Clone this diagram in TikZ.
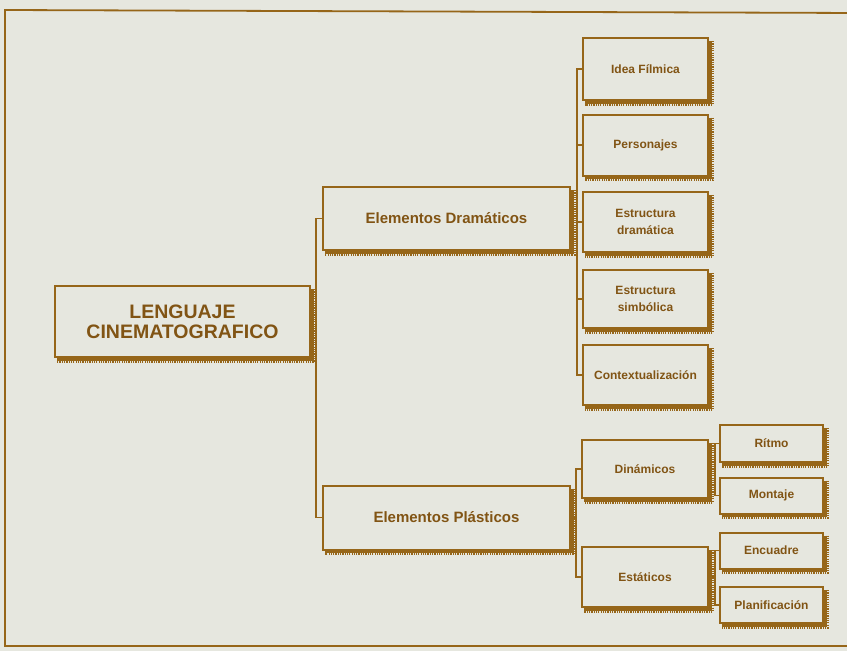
\documentclass[tikz,border=0pt]{standalone}
\usepackage{fontspec}
\setmainfont{Liberation Sans}
\definecolor{bg}{HTML}{E6E7DF}
\definecolor{brn}{HTML}{966619}
\definecolor{txt}{HTML}{815414}
\tikzset{
  box/.style={draw=brn, line width=2pt, rectangle, inner sep=0pt, text=txt, align=center},
  bigtxt/.style={font=\fontsize{19.5}{20}\selectfont\bfseries},
  midtxt/.style={font=\fontsize{15}{17}\selectfont\bfseries},
  smalltxt/.style={font=\fontsize{12}{17}\selectfont\bfseries},
  conn/.style={draw=brn, line width=1.8pt},
  shadowa/.style={draw=brn, line width=2.6pt},
  shadowb/.style={draw=brn, line width=2pt, dash pattern=on 1.2pt off 1.1pt},
  framestyle/.style={draw=brn, line width=1.8pt}
}
\begin{document}
\begin{tikzpicture}[x=1pt,y=-1pt]
\useasboundingbox (0,0) rectangle (847,651);
\fill[bg] (0,0) rectangle (847,651);
\draw[framestyle] (860,13) -- (5,10) -- (5,646) -- (860,646);

% left level
\node[box, bigtxt, minimum width=255pt, minimum height=71pt] (main) at (182.5,321.5) {LENGUAJE\\CINEMATOGRAFICO};
\node[box, midtxt, minimum width=247pt, minimum height=63pt] (dram) at (446.5,218.5) {Elementos Dramáticos};
\node[box, midtxt, minimum width=247pt, minimum height=64pt] (plas) at (446.5,517.5) {Elementos Plásticos};

% dramatic branch
\node[box, smalltxt, minimum width=125pt, minimum height=62pt] (idea) at (645.5,69) {Idea Fílmica};
\node[box, smalltxt, minimum width=125pt, minimum height=61pt] (pers) at (645.5,145) {Personajes};
\node[box, smalltxt, minimum width=125pt, minimum height=60pt] (edram) at (645.5,222) {Estructura\\dramática};
\node[box, smalltxt, minimum width=125pt, minimum height=58pt] (esimb) at (645.5,299) {Estructura\\simbólica};
\node[box, smalltxt, minimum width=125pt, minimum height=60pt] (cont) at (645.5,375) {Contextualización};

% plastic branch
\node[box, smalltxt, minimum width=126pt, minimum height=58pt] (dina) at (645,469) {Dinámicos};
\node[box, smalltxt, minimum width=126pt, minimum height=60pt] (esta) at (645,577) {Estáticos};
\node[box, smalltxt, minimum width=103pt, minimum height=37pt] (ritmo) at (771.5,443.5) {Rítmo};
\node[box, smalltxt, minimum width=103pt, minimum height=36pt] (mont) at (771.5,495.5) {Montaje};
\node[box, smalltxt, minimum width=103pt, minimum height=36pt] (encu) at (771.5,550.5) {Encuadre};
\node[box, smalltxt, minimum width=103pt, minimum height=36pt] (plan) at (771.5,605) {Planificación};

% shadows
\foreach \n in {main,dram,plas,idea,pers,edram,esimb,cont,dina,esta,ritmo,mont,encu,plan}{
  \draw[shadowa] ([shift={(1.6,4)}]\n.north east) -- ([shift={(1.6,1.6)}]\n.south east) -- ([shift={(3,1.6)}]\n.south west);
  \draw[shadowb] ([shift={(3.6,4)}]\n.north east) -- ([shift={(3.6,3.6)}]\n.south east) -- ([shift={(3,3.6)}]\n.south west);
}

% connectors: main -> dram / plas
\coordinate (jl) at ([xshift=-6pt]dram.west |- main.east);
\draw[conn] (main.east) -- (jl);
\draw[conn] (dram.west) -- ++(-6,0) |- (plas.west);

% dram -> right column
\coordinate (jr) at ([xshift=-5pt]idea.west |- dram.east);
\draw[conn] (dram.east) -- (jr);
\draw[conn] (idea.west) -- ++(-5,0) |- (cont.west);
\foreach \n in {pers,edram,esimb}{
  \draw[conn] (\n.west) -- ++(-5,0);
}

% plas -> dina / esta
\coordinate (jp) at ([xshift=-5pt]dina.west |- plas.east);
\draw[conn] (plas.east) -- (jp);
\draw[conn] (dina.west) -- ++(-5,0) |- (esta.west);

% dina -> ritmo / montaje
\coordinate (jd) at ([xshift=-4pt]ritmo.west |- dina.east);
\draw[conn] (dina.east) -- (jd);
\draw[conn] (ritmo.west) -- ++(-4,0) |- (mont.west);

% esta -> encuadre / planificacion
\coordinate (je) at ([xshift=-4pt]encu.west |- esta.east);
\draw[conn] (esta.east) -- (je);
\draw[conn] (encu.west) -- ++(-4,0) |- (plan.west);
\end{tikzpicture}
\end{document}
